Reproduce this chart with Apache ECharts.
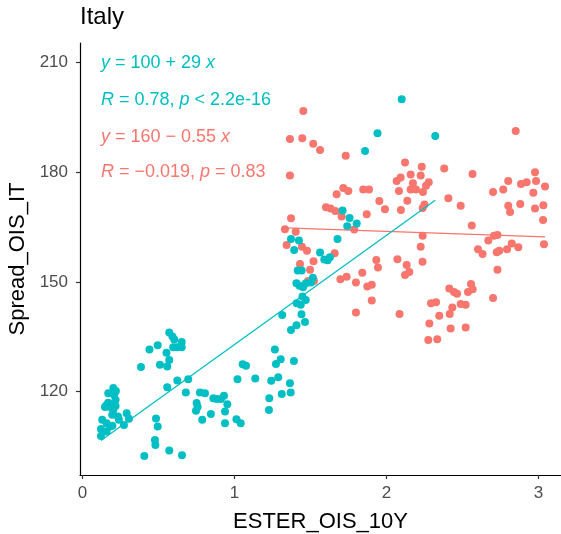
<!DOCTYPE html>
<html><head><meta charset="utf-8">
<script src="https://cdn.jsdelivr.net/npm/echarts@6/dist/echarts.min.js"></script>
<style>html,body{margin:0;padding:0;background:#fff}#c{width:561px;height:534px}</style>
</head><body><div id="c"></div>
<script>
// Group 1 (cyan)
const cyanX = [0.122,0.122,0.159,0.130,0.159,0.181,0.197,0.240,0.234,0.196,0.273,0.291,0.306,0.203,0.181,0.159,0.218,0.192,0.170,0.218,0.209,0.170,0.203,0.220,0.148,
0.385,0.441,0.495,0.553,0.571,0.592,0.604,0.597,0.624,0.653,0.653,0.571,0.510,0.558,0.624,0.696,0.558,0.680,0.773,0.806,0.751,0.758,0.747,0.861,0.883,0.911,0.931,0.953,0.938,0.845,0.788,0.938,1.013,1.041,1.020,1.054,1.076,0.484,0.495,0.477,0.480,0.407,0.571,0.655,
1.137,1.242,1.288,1.365,1.229,1.311,1.370,1.227,1.266,1.304,1.273,1.391,1.372,1.408,1.464,1.314,1.441,1.409,1.436,1.447,1.469,1.408,1.428,1.451,1.470,1.503,1.416,1.442,1.516,1.563,1.591,1.613,1.628,1.372,1.424,1.393,1.678,1.711,1.757,1.742,1.804,1.859,1.941,2.100,2.321];
const cyanY = [107.8,109.7,109.0,112.2,111.3,110.4,110.6,112.2,113.1,113.6,110.8,114.0,112.5,114.9,115.7,116.3,116.0,116.5,116.9,117.7,119.0,119.5,120.9,120.1,115.7,
126.7,131.5,132.6,130.6,136.1,135.0,134.2,132.1,132.1,133.5,132.1,128.6,127.3,126.8,123.0,123.3,121.1,119.7,119.7,119.5,116.8,115.7,114.7,118.1,117.9,117.9,118.8,116.5,114.5,113.8,112.2,111.3,112.4,111.3,123.3,127.4,127.0,112.6,110.4,106.7,105.3,102.3,103.8,102.5,
123.5,122.9,123.9,122.2,118.1,119.3,119.7,114.9,131.5,128.8,127.5,128.3,136.8,138.1,139.0,140.9,141.1,144.1,143.7,146.0,145.0,149.6,148.9,148.5,149.6,149.8,153.1,153.1,151.1,158.0,156.1,155.9,156.7,161.7,161.3,158.7,161.7,169.5,167.5,165.2,166.0,185.8,190.7,200.0,189.9];

// Group 2 (salmon)
const salmonX = [1.453,1.365,1.446,1.518,1.563,1.732,1.365,2.122,2.232,2.380,2.566,2.159,2.225,2.093,2.067,2.174,2.278,2.260,2.159,2.194,2.082,2.240,1.716,1.749,1.672,1.847,1.885,1.953,2.137,1.990,2.095,2.250,2.238,1.602,1.632,1.664,1.705,1.870,1.372,1.332,1.403,1.788,2.238,2.225,1.343,1.444,1.477,1.659,1.520,1.431,1.497,1.933,1.944,2.072,2.133,2.122,2.150,2.237,1.841,1.738,1.697,1.799,1.874,1.903,1.484,1.523,1.903,1.799,2.086,
2.850,2.407,2.488,2.977,2.801,2.885,2.922,2.984,3.043,2.768,2.701,2.966,2.801,2.813,2.880,2.977,3.032,3.030,2.561,2.707,2.730,2.670,2.602,2.632,2.725,2.742,2.793,2.824,2.867,3.036,2.730,2.701,2.413,2.444,2.464,2.556,2.567,2.536,2.293,2.326,2.433,2.488,2.521,2.416,2.347,2.282,2.422,2.521,2.275,2.334];
const salmonY = [196.8,189.1,189.3,187.8,186.1,184.5,179.1,182.7,181.5,181.0,179.5,179.4,179.1,178.6,177.6,177.0,177.3,176.3,175.3,175.3,174.9,174.6,175.7,174.9,174.0,175.3,175.3,172.1,172.2,169.9,169.7,171.2,170.2,170.4,170.1,169.4,167.9,168.5,167.4,164.4,163.7,164.3,162.6,159.6,160.1,159.6,158.5,157.8,155.6,154.9,153.3,156.0,153.9,156.2,154.6,151.9,152.7,155.5,152.5,151.4,150.7,149.8,148.7,149.2,150.2,150.2,144.9,141.6,141.2,
191.3,172.9,170.8,180.0,177.6,176.8,177.3,177.6,176.1,175.3,174.6,174.4,170.8,169.1,171.3,170.1,171.0,166.9,165.4,162.6,162.8,161.3,158.9,157.6,158.1,158.5,158.9,160.5,159.5,160.3,153.3,145.6,148.2,147.2,146.7,149.4,148.0,147.2,144.1,144.4,143.0,143.9,143.7,141.2,140.7,138.6,137.2,137.5,134.1,134.3];

const xTicks = [0, 1, 2, 3];
const yTicks = [120, 150, 180, 210];

const CYAN = '#00BFC4', SALMON = '#F8766D';
const FONT = '"Liberation Sans", Arial, sans-serif';

function pairs(xs, ys) { return xs.map((x, i) => [x, ys[i]]); }
function fitLine(xs, ys) {
  const n = xs.length;
  const mx = xs.reduce((a, b) => a + b, 0) / n;
  const my = ys.reduce((a, b) => a + b, 0) / n;
  let sxy = 0, sxx = 0;
  for (let i = 0; i < n; i++) { sxy += (xs[i] - mx) * (ys[i] - my); sxx += (xs[i] - mx) ** 2; }
  const b = sxy / sxx, a = my - b * mx;
  const lo = Math.min(...xs), hi = Math.max(...xs);
  return [[lo, a + b * lo], [hi, a + b * hi]];
}

const chart = echarts.init(document.getElementById('c'), null, { renderer: 'canvas' });

function ann(text, top, color) {
  return {
    text: text, left: 101, top: top, padding: 0,
    textStyle: {
      fontFamily: FONT, fontSize: 18, fontWeight: 'normal', color: color,
      rich: { i: { fontFamily: FONT, fontSize: 18, fontStyle: 'italic', color: color } }
    }
  };
}

chart.setOption({
  animation: false,
  backgroundColor: '#fff',
  title: [
    { text: 'Italy', left: 80, top: 5, padding: 0,
      textStyle: { fontFamily: FONT, fontSize: 24, fontWeight: 'normal', color: '#000' } },
    ann('{i|y} = 100 + 29 {i|x}', 54, CYAN),
    ann('{i|R} = 0.78, {i|p} < 2.2e-16', 91, CYAN),
    ann('{i|y} = 160 \u2212 0.55 {i|x}', 128, SALMON),
    ann('{i|R} = \u22120.019, {i|p} = 0.83', 163, SALMON)
  ],
  grid: { left: 80, right: 0, top: 43, bottom: 59, containLabel: false, outerBoundsMode: 'none' },
  xAxis: {
    type: 'value', min: -0.016, max: 3.148,
    name: 'ESTER_OIS_10Y', nameLocation: 'middle', nameGap: 36,
    nameTextStyle: { fontFamily: FONT, fontSize: 22, color: '#000' },
    axisLine: { show: true, onZero: false, lineStyle: { color: '#000', width: 1.2 } },
    axisTick: { show: true, length: 4, customValues: xTicks, lineStyle: { color: '#333', width: 1.2 } },
    axisLabel: { customValues: xTicks, fontFamily: FONT, fontSize: 17, color: '#4d4d4d', margin: 10 },
    splitLine: { show: false }
  },
  yAxis: {
    type: 'value', min: 97.1, max: 215.4,
    name: 'Spread_OIS_IT', nameLocation: 'middle', nameGap: 46,
    nameTextStyle: { fontFamily: FONT, fontSize: 22, color: '#000' },
    axisLine: { show: true, onZero: false, lineStyle: { color: '#000', width: 1.2 } },
    axisTick: { show: true, length: 4, customValues: yTicks, lineStyle: { color: '#333', width: 1.2 } },
    axisLabel: { customValues: yTicks, fontFamily: FONT, fontSize: 17, color: '#4d4d4d', margin: 12 },
    splitLine: { show: false }
  },
  series: [
    { type: 'scatter', data: pairs(salmonX, salmonY), symbolSize: 8, itemStyle: { color: SALMON, opacity: 1 }, z: 2 },
    { type: 'scatter', data: pairs(cyanX, cyanY), symbolSize: 8, itemStyle: { color: CYAN, opacity: 1 }, z: 2 },
    { type: 'line', data: fitLine(salmonX, salmonY), symbol: 'none', lineStyle: { color: SALMON, width: 1.3 }, z: 3 },
    { type: 'line', data: fitLine(cyanX, cyanY), symbol: 'none', lineStyle: { color: CYAN, width: 1.3 }, z: 3 }
  ]
});
</script>
</body></html>
